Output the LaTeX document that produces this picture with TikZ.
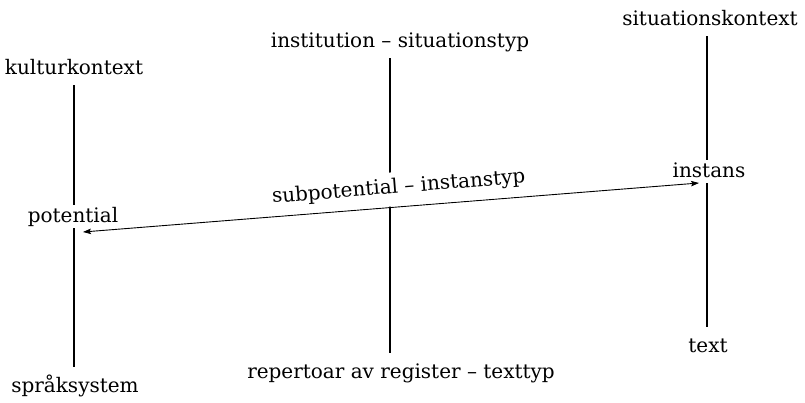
\documentclass[tikz,border=0pt]{standalone}
\usepackage{fontspec}
\setmainfont{DejaVu Serif}
\usetikzlibrary{arrows.meta,backgrounds}
\begin{document}
\begin{tikzpicture}[x=1pt,y=-1pt,
  lbl/.style={font=\fontsize{20}{24}\selectfont, text height=15pt, text depth=0pt,
              inner xsep=2pt, inner ysep=10pt, anchor=base},
  mid/.style={lbl, fill=white, inner ysep=3pt, text depth=2pt},
  axis/.style={line width=2pt},
  link/.style={line width=0.9pt, {Stealth[length=8pt,width=5.5pt,inset=1.5pt]}-{Stealth[length=8pt,width=5.5pt,inset=1.5pt]}},
  sublbl/.style={font=\fontsize{20}{24}\selectfont, fill=white, text height=15pt,
                 text depth=7pt, inner xsep=2pt, inner ysep=6pt}
]
\useasboundingbox (0,0) rectangle (805,403);

% left column: culture
\node[lbl] (kk)  at (74,75)  {kulturkontext};
\node[mid] (pot) at (73,223) {potential};
\node[lbl] (spr) at (75,392) {språksystem};

% middle column: institution
\node[lbl] (inst) at (400,48)  {institution – situationstyp};
\node[lbl] (rep)  at (401,378) {repertoar av register – texttyp};

% right column: situation
\node[lbl] (sk)  at (710,26)  {situationskontext};
\node[mid] (ins) at (709,178) {instans};
\node[lbl] (txt) at (708,352) {text};

% ends of the instantiation arrow
\coordinate (aL) at (83,232);
\coordinate (aR) at (699,183);

\draw[link] (aL) -- node[pos=0.515, sloped, above=0.5pt, sublbl] (sub) {subpotential – instanstyp} (aR);

\begin{pgfonlayer}{background}
\draw[axis] (kk.south) -- (kk.south |- spr.north);
\draw[axis] ([xshift=-10pt]inst.south) -- ([xshift=-10pt]inst.south |- rep.north);
\draw[axis] ([xshift=-3pt]sk.south) -- ([xshift=-3pt]sk.south |- txt.north);
\end{pgfonlayer}
\end{tikzpicture}
\end{document}
